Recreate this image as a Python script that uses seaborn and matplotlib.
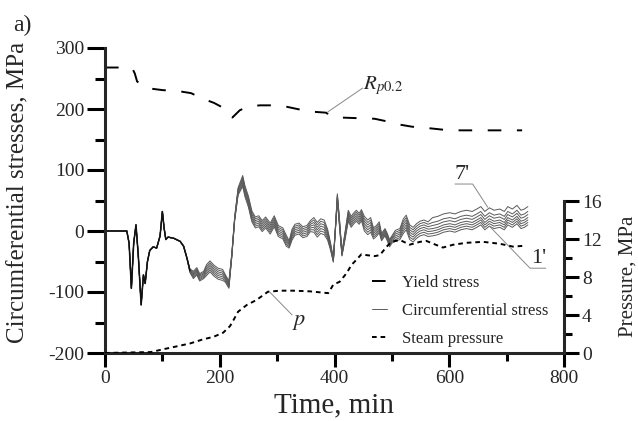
import matplotlib
matplotlib.use("Agg")
import matplotlib.pyplot as plt
from matplotlib.ticker import MultipleLocator, FixedLocator
import seaborn as sns


# shared part of the seven circumferential stress curves (they coincide here)
time_early = [0, 38, 42, 46, 50, 54, 58, 63, 67, 70, 74, 78, 84, 90, 96, 100, 103, 106, 110, 120, 131, 137, 143]
stress_early = [0, 0, -20, -94, -20, 10, -40, -121, -72, -86, -50, -32, -26, -28, -8, 32, 5, -14, -10, -12, -17, -25, -45]

# part where the curves 1' ... 7' separate
time_band = [148, 154, 160, 165, 172, 177, 183, 190, 197, 205, 210, 216, 221, 226, 232, 240, 244, 250, 256, 262,
             268, 274, 280, 288, 295, 302, 310, 316, 321, 326, 331, 338, 345, 352, 358, 364, 370, 376, 382, 388,
             393, 398, 402, 405, 409, 413, 418, 424, 429, 433, 438, 443, 447, 452, 458, 463, 468, 473, 478, 482,
             488, 492, 496, 500, 506, 514, 520, 525, 531, 537, 543, 549, 556, 563, 571, 580, 590, 601, 610, 620,
             630, 640, 648, 655, 662, 670, 678, 688, 696, 702, 710, 718, 725, 731, 737]
band_1 = [-68, -78, -72, -82, -78, -73, -67, -74, -79, -81, -84, -94, -43, 17, 59, 73, 56, 39, 15, 5,
          7, -1, 5, -5, 7, -9, -13, -25, -28, -15, -7, -5, -11, -9, -1, -2, -10, -4, -6, -15,
          -31, -51, 7, 49, 4, -41, -16, 16, 6, 11, 16, 11, 17, 0, -6, -2, -13, -9, -3, -16,
          -8, -16, -26, -20, -17, -14, -4, 2, -14, -18, -12, -8, -6, -9, -8, -6, -2, 0, -2, 2,
          4, 2, 6, 10, 2, 8, 4, 6, 2, 10, 6, 12, 4, 6, 10]
band_2 = [-67, -76, -70, -80, -76, -70, -64, -71, -76, -78, -82, -92, -42, 18, 61, 76, 59, 42, 18, 8,
          10, 2, 8, -2, 10, -6, -10, -22, -26, -12, -4, -2, -8, -6, 2, 2, -6, 0, -2, -12,
          -29, -50, 8, 51, 6, -40, -14, 19, 9, 14, 19, 14, 20, 4, -2, 2, -10, -6, 0, -14,
          -6, -14, -24, -18, -14, -11, 0, 6, -10, -14, -8, -4, -2, -5, -4, -2, 2, 4, 2, 6,
          8, 6, 10, 14, 6, 12, 8, 10, 6, 14, 10, 16, 8, 10, 14]
band_3 = [-66, -74, -68, -78, -74, -67, -61, -68, -73, -75, -80, -90, -41, 19, 63, 79, 62, 45, 21, 11,
          13, 5, 11, 1, 13, -3, -7, -19, -24, -9, -1, 1, -5, -3, 5, 6, -2, 4, 2, -9,
          -27, -49, 9, 53, 8, -39, -12, 22, 12, 17, 22, 17, 23, 8, 2, 6, -7, -3, 3, -12,
          -4, -12, -22, -16, -11, -8, 4, 10, -6, -10, -4, 0, 2, -1, 0, 2, 6, 8, 6, 10,
          12, 10, 14, 18, 10, 16, 12, 14, 10, 18, 14, 20, 12, 14, 18]
band_4 = [-65, -72, -66, -76, -72, -64, -58, -65, -70, -72, -78, -88, -40, 20, 65, 82, 65, 48, 24, 14,
          16, 8, 14, 4, 16, 0, -4, -16, -22, -6, 2, 4, -2, 0, 8, 10, 2, 8, 6, -6,
          -25, -48, 10, 55, 10, -38, -10, 25, 15, 20, 25, 20, 26, 12, 6, 10, -4, 0, 6, -10,
          -2, -10, -20, -14, -8, -5, 8, 14, -2, -6, 0, 4, 6, 3, 4, 6, 10, 12, 10, 14,
          16, 14, 18, 22, 14, 20, 16, 18, 14, 22, 18, 24, 16, 18, 22]
band_5 = [-64, -70, -64, -74, -70, -61, -55, -62, -67, -69, -76, -86, -39, 21, 67, 85, 68, 51, 27, 17,
          19, 11, 17, 7, 19, 3, -1, -13, -20, -3, 5, 7, 1, 3, 11, 14, 6, 12, 10, -3,
          -23, -47, 11, 57, 12, -37, -8, 28, 18, 23, 28, 23, 29, 16, 10, 14, -1, 3, 9, -8,
          0, -8, -18, -12, -5, -2, 12, 18, 2, -2, 4, 8, 10, 7, 9, 11, 15, 17, 15, 19,
          21, 19, 23, 27, 19, 25, 21, 23, 19, 27, 23, 29, 21, 23, 27]
band_6 = [-63, -68, -62, -72, -68, -58, -52, -59, -64, -66, -74, -84, -38, 22, 69, 88, 71, 54, 30, 20,
          22, 14, 20, 10, 22, 6, 2, -10, -18, 0, 8, 10, 4, 6, 14, 18, 10, 16, 14, 0,
          -21, -46, 12, 59, 14, -36, -6, 31, 21, 26, 31, 26, 32, 20, 14, 18, 2, 6, 12, -6,
          2, -6, -16, -10, -2, 1, 16, 22, 6, 2, 8, 12, 14, 11, 14, 16, 20, 22, 20, 24,
          26, 24, 28, 32, 24, 30, 26, 28, 24, 32, 28, 34, 26, 28, 32]
band_7 = [-62, -66, -60, -70, -66, -55, -49, -56, -61, -63, -72, -82, -37, 23, 71, 91, 74, 57, 33, 23,
          25, 17, 23, 13, 25, 9, 5, -7, -16, 3, 11, 13, 7, 9, 17, 22, 14, 20, 18, 3,
          -19, -45, 13, 61, 16, -35, -4, 34, 24, 29, 34, 29, 35, 24, 18, 22, 5, 9, 15, -4,
          4, -4, -14, -8, 1, 4, 20, 26, 10, 6, 12, 16, 18, 15, 22, 24, 28, 30, 28, 32,
          34, 32, 36, 40, 32, 38, 34, 36, 32, 40, 36, 42, 34, 36, 40]

# yield stress Rp0.2
time_yield = [0, 30, 48, 52, 56, 75, 100, 130, 150, 170, 190, 210, 222, 235, 250, 270, 290, 310, 330, 355,
              385, 392, 398, 410, 440, 470, 490, 510, 535, 560, 590, 620, 660, 700, 727]
yield_stress = [268, 268, 266, 258, 245, 234, 231, 229, 226, 217, 210, 200, 186, 198, 204, 206, 206, 205, 201, 196,
                194, 190, 187, 186, 185, 184, 180, 175, 171, 169, 166, 165, 165, 165, 165]

# steam pressure, right axis
time_pressure = [0, 80, 102, 122, 148, 171, 189, 206, 218, 224, 232, 247, 264, 284, 305, 328, 357, 389, 398, 409,
                 421, 430, 438, 447, 456, 470, 479, 491, 499, 514, 531, 549, 560, 572, 589, 607, 630, 659, 688, 711,
                 734]
steam_pressure = [0, 0.1, 0.4, 0.66, 1.0, 1.44, 1.7, 2.14, 2.84, 3.47, 4.35, 5.05, 5.58, 6.45, 6.56, 6.56, 6.49, 6.3,
                  7.2, 7.5, 8.4, 9.3, 9.8, 10.4, 10.3, 10.2, 10.3, 11.2, 11.7, 11.9, 11.4, 11.7, 11.8, 11.5, 11.1,
                  11.4, 11.6, 11.7, 11.5, 11.2, 11.3]

sns.set_style("ticks")
plt.rcParams["font.family"] = ["Liberation Serif", "DejaVu Serif"]
plt.rcParams["mathtext.fontset"] = "stix"
plt.rcParams["axes.unicode_minus"] = False

fig = plt.figure(figsize=(6.38, 4.21), dpi=100)
ax = fig.add_axes([105 / 638, 68 / 421, 459 / 638, 305 / 421])
ax2 = ax.twinx()

for i, band in enumerate([band_1, band_2, band_3, band_4, band_5, band_6, band_7]):
    sns.lineplot(x=time_early + time_band, y=stress_early + band, ax=ax, color="#5a5a5a", lw=0.7,
                 legend=False)
    if i == 0:
        stress_handle = ax.lines[-1]
# the coinciding curves merge into one dark trace
sns.lineplot(x=time_early + time_band[:1], y=stress_early + band_4[:1], ax=ax, color="#111111", lw=1.1,
             legend=False)

sns.lineplot(x=time_yield, y=yield_stress, ax=ax, color="black", lw=1.4, linestyle=(0, (7, 8)), legend=False)
yield_handle = ax.lines[-1]

sns.lineplot(x=time_pressure, y=steam_pressure, ax=ax2, color="black", lw=1.4, linestyle=(0, (2.4, 2)),
             legend=False)
pressure_handle = ax2.lines[-1]

ax.set_xlim(0, 800)
ax.set_ylim(-200, 300)
ax2.set_ylim(0, 305 / 9.5)

ax.xaxis.set_major_locator(MultipleLocator(200))
ax.xaxis.set_minor_locator(MultipleLocator(100))
ax.yaxis.set_major_locator(MultipleLocator(100))
ax.yaxis.set_minor_locator(MultipleLocator(50))
ax2.yaxis.set_major_locator(FixedLocator([0, 4, 8, 12, 16]))
ax2.yaxis.set_minor_locator(FixedLocator([2, 6, 10, 14]))

for a in (ax, ax2):
    a.tick_params(which="major", direction="out", length=13, width=2.2, labelsize=14, pad=2, color="black")
    a.tick_params(which="minor", direction="out", length=7, width=2.2, color="black")
ax.tick_params(axis="x", which="major", length=10)
ax.tick_params(axis="x", which="minor", length=6)
ax2.tick_params(axis="y", which="major", length=11)
ax2.tick_params(axis="y", which="minor", length=6)

for side in ("top", "right"):
    ax.spines[side].set_visible(False)
for side in ("top", "left", "bottom"):
    ax2.spines[side].set_visible(False)
for s in ("left", "bottom"):
    ax.spines[s].set_linewidth(2.2)
ax2.spines["right"].set_linewidth(2.2)
ax2.spines["right"].set_bounds(0, 16)

ax.set_xlabel("Time, min", fontsize=21)
ax.set_ylabel("Circumferential stresses, MPa", fontsize=18)
ax2.set_ylabel("Pressure, MPa", fontsize=15)
ax.xaxis.set_label_coords(0.5, -0.128)
ax.yaxis.set_label_coords(-0.165, 0.525)
ax2.yaxis.set_label_coords(1.118, 0.252)

ax2.legend([yield_handle, stress_handle, pressure_handle],
           ["Yield stress", "Circumferential stress", "Steam pressure"],
           loc="upper left", bbox_to_anchor=(372 / 638, 1 - 275 / 421), bbox_transform=fig.transFigure,
           frameon=False, fontsize=12, handlelength=0.9, handletextpad=0.9, labelspacing=0.72,
           borderpad=0, borderaxespad=0)

lead = dict(arrowstyle="-", color="#888888", lw=0.7, shrinkA=0, shrinkB=0, patchA=None)
ax.annotate("$R_{p0.2}$", xy=(388, 195), xytext=(449, 238), fontsize=15, va="center", ha="left",
            arrowprops=dict(lead, relpos=(0, 0.4)))
ax.annotate("7'", xy=(667, 39), xytext=(610, 77), fontsize=16, va="bottom", ha="left",
            arrowprops=dict(lead, relpos=(0, 0), connectionstyle="angle,angleA=0,angleB=123,rad=0"))
ax.annotate("1'", xy=(671, 7), xytext=(742, -61), fontsize=16, va="bottom", ha="left",
            arrowprops=dict(lead, relpos=(1, 0), connectionstyle="angle,angleA=180,angleB=-46,rad=0"))
ax.annotate("$p$", xy=(287, -100), xytext=(326, -150), fontsize=16, va="center", ha="left",
            arrowprops=dict(lead, relpos=(0, 0.9)))

fig.text(13 / 638, 1 - 25 / 421, "a)", fontsize=17, va="center", ha="left")

fig.savefig("out.png", dpi=100)
